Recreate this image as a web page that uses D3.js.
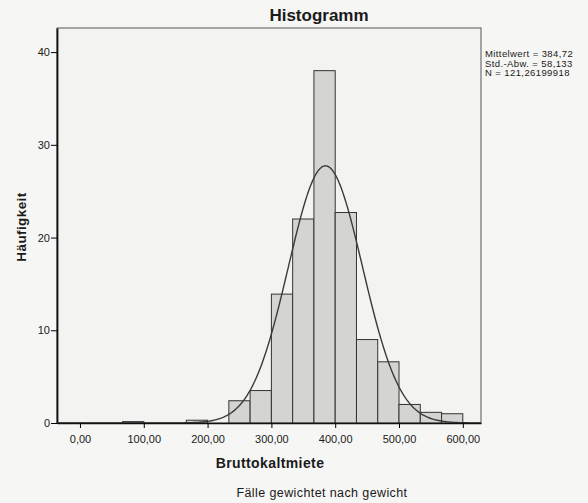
<!DOCTYPE html>
<html>
<head>
<meta charset="utf-8">
<script src="https://cdn.jsdelivr.net/npm/d3@7"></script>
<style>
  body { margin: 0; background: #f6f6f4; }
  svg text { font-family: Arial, "Liberation Sans", sans-serif; fill: #1a1a1a; }
</style>
</head>
<body>
<div id="container"></div>
<script>
'use strict';

const width = 588,
      height = 503,
      margin = {top: 28, right: 107, bottom: 80, left: 57};

// Histogram bins (lower edge, bin width 33.33) and weighted counts
const binStarts = [66.67, 166.67, 233.33, 266.67, 300, 333.33, 366.67, 400, 433.33, 466.67, 500, 533.33, 566.67];
const counts    = [0.15,  0.3,    2.4,    3.5,    13.9, 22.0,  38.0,   22.7, 9.0,    6.6,    2.0,  1.15,   1.0];
const binWidth = 100 / 3;

const xTicks = [0, 100, 200, 300, 400, 500, 600];
const yTicks = [0, 10, 20, 30, 40];

// fitted normal curve statistics
const mean = 384.72, sd = 58.133, n = 121.26199918;
const legendLines = ["Mittelwert = 384,72", "Std.-Abw. = 58,133", "N = 121,26199918"];

const fmt = d3.format(".2f");
const deNum = v => fmt(v).replace(".", ",");

const svg = d3.select("#container")
  .append("svg")
  .attr("width", width)
  .attr("height", height);

const xScale = d3.scaleLinear()
  .domain([-36, 628.5])
  .range([margin.left, width - margin.right]);

const yScale = d3.scaleLinear()
  .domain([0, 42.6])
  .range([height - margin.bottom, margin.top]);

// plot frame
svg.append("rect")
  .attr("x", margin.left)
  .attr("y", margin.top)
  .attr("width", width - margin.right - margin.left)
  .attr("height", height - margin.bottom - margin.top)
  .attr("fill", "#f3f3f1")
  .attr("stroke", "#555")
  .attr("stroke-width", 1);

// bars
svg.selectAll(".bar")
  .data(binStarts.map((s, i) => ({x0: s, x1: s + binWidth, v: counts[i]})))
  .join("rect")
  .attr("class", "bar")
  .attr("x", d => xScale(d.x0))
  .attr("y", d => yScale(d.v))
  .attr("width", d => xScale(d.x1) - xScale(d.x0))
  .attr("height", d => yScale(0) - yScale(d.v))
  .attr("fill", "#d4d4d2")
  .attr("stroke", "#333")
  .attr("stroke-width", 1);

// normal curve
const curveX = d3.range(xScale.domain()[0], xScale.domain()[1], 2);
const dens = x => n * binWidth / (sd * Math.sqrt(2 * Math.PI)) * Math.exp(-0.5 * ((x - mean) / sd) ** 2);

svg.append("path")
  .datum(curveX)
  .attr("fill", "none")
  .attr("stroke", "#3a3a3a")
  .attr("stroke-width", 1.4)
  .attr("d", d3.line().x(d => xScale(d)).y(d => yScale(dens(d))));

// axes
const xAxis = d3.axisBottom(xScale).tickValues(xTicks).tickFormat(deNum).tickSize(5).tickSizeOuter(0);
const yAxis = d3.axisLeft(yScale).tickValues(yTicks).tickSize(6).tickSizeOuter(0);

svg.append("g")
  .attr("class", "axis x-axis")
  .attr("transform", `translate(0, ${height - margin.bottom})`)
  .call(xAxis)
  .call(g => g.select(".domain").attr("stroke", "#111").attr("stroke-width", 1.6))
  .call(g => g.selectAll("text").attr("font-size", 11).attr("dy", "1.05em"));

svg.append("g")
  .attr("class", "axis y-axis")
  .attr("transform", `translate(${margin.left}, 0)`)
  .call(yAxis)
  .call(g => g.select(".domain").attr("stroke", "#111").attr("stroke-width", 1.8))
  .call(g => g.selectAll("text").attr("font-size", 11).attr("x", -7));

// titles
svg.append("text")
  .attr("x", 319)
  .attr("y", 21)
  .attr("text-anchor", "middle")
  .attr("font-size", 17)
  .attr("font-weight", "bold")
  .text("Histogramm");

svg.append("text")
  .attr("x", 270)
  .attr("y", 468)
  .attr("text-anchor", "middle")
  .attr("font-size", 14)
  .attr("letter-spacing", 0.4)
  .attr("font-weight", "bold")
  .text("Bruttokaltmiete");

svg.append("text")
  .attr("transform", "translate(26, 227) rotate(-90)")
  .attr("text-anchor", "middle")
  .attr("font-size", 13.5)
  .attr("letter-spacing", 0.4)
  .attr("font-weight", "bold")
  .text("Häufigkeit");

svg.append("text")
  .attr("x", 322)
  .attr("y", 497)
  .attr("text-anchor", "middle")
  .attr("font-size", 12.5)
  .attr("letter-spacing", 0.4)
  .text("Fälle gewichtet nach gewicht");

// legend
svg.append("g")
  .selectAll("text")
  .data(legendLines)
  .join("text")
  .attr("x", 485)
  .attr("y", (d, i) => 57 + i * 9.5)
  .attr("font-size", 9.5)
  .attr("letter-spacing", 0.4)
  .text(d => d);
</script>
</body>
</html>
